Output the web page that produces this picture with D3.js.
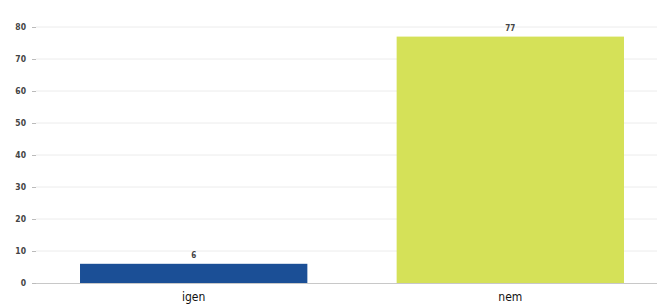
<!DOCTYPE html>
<html><head><meta charset="utf-8">
<script src="https://cdn.jsdelivr.net/npm/d3@7"></script>
<style>body{margin:0;background:#fff}svg{display:block}</style>
</head><body>
<script>
const categories = ["igen", "nem"];
const values = [6, 77];
const colors = ["#1b4f96", "#d5e158"];
const yTicks = [0, 10, 20, 30, 40, 50, 60, 70, 80];

const W = 657, H = 306;
const svg = d3.select("body").append("svg").attr("width", W).attr("height", H);

const y = d3.scaleLinear().domain([0, 80]).range([283, 27]);
const x = d3.scaleBand().domain(categories).range([36, 668]).paddingInner(0.282).paddingOuter(0.139);

// gridlines
svg.append("g").selectAll("line").data(yTicks.slice(1)).join("line")
  .attr("x1", 36).attr("x2", W).attr("y1", d => y(d)).attr("y2", d => y(d))
  .attr("stroke", "#ececec").attr("stroke-width", 1);

// y axis
const yAxis = svg.append("g").attr("transform", "translate(36,0)")
  .call(d3.axisLeft(y).tickValues(yTicks).tickSize(4).tickPadding(6));
yAxis.select(".domain").remove();
yAxis.selectAll(".tick line").attr("stroke", "#bbb");
yAxis.selectAll(".tick text").attr("fill", "#444").style("font", "bold 8.5px 'DejaVu Sans Condensed', sans-serif");

// bars
svg.append("g").selectAll("rect").data(values).join("rect")
  .attr("x", (d, i) => x(categories[i])).attr("width", x.bandwidth())
  .attr("y", d => y(d)).attr("height", d => y(0) - y(d))
  .attr("fill", (d, i) => colors[i]);

// baseline
svg.append("line").attr("x1", 36).attr("x2", W).attr("y1", y(0) + 0.5).attr("y2", y(0) + 0.5)
  .attr("stroke", "#c8c8c8");

// value labels
svg.append("g").selectAll("text").data(values).join("text")
  .attr("x", (d, i) => x(categories[i]) + x.bandwidth() / 2)
  .attr("y", d => y(d) - 6)
  .attr("text-anchor", "middle").attr("fill", "#444")
  .style("font", "bold 8px 'DejaVu Sans Condensed', sans-serif")
  .text(d => d);

// x labels
const xAxis = svg.append("g").attr("transform", `translate(0,${y(0)})`)
  .call(d3.axisBottom(x).tickSize(0).tickPadding(9));
xAxis.select(".domain").remove();
xAxis.selectAll(".tick text").attr("fill", "#111")
  .style("font", "12px 'Liberation Sans Narrow', 'DejaVu Sans Condensed', sans-serif");
</script>
</body></html>
